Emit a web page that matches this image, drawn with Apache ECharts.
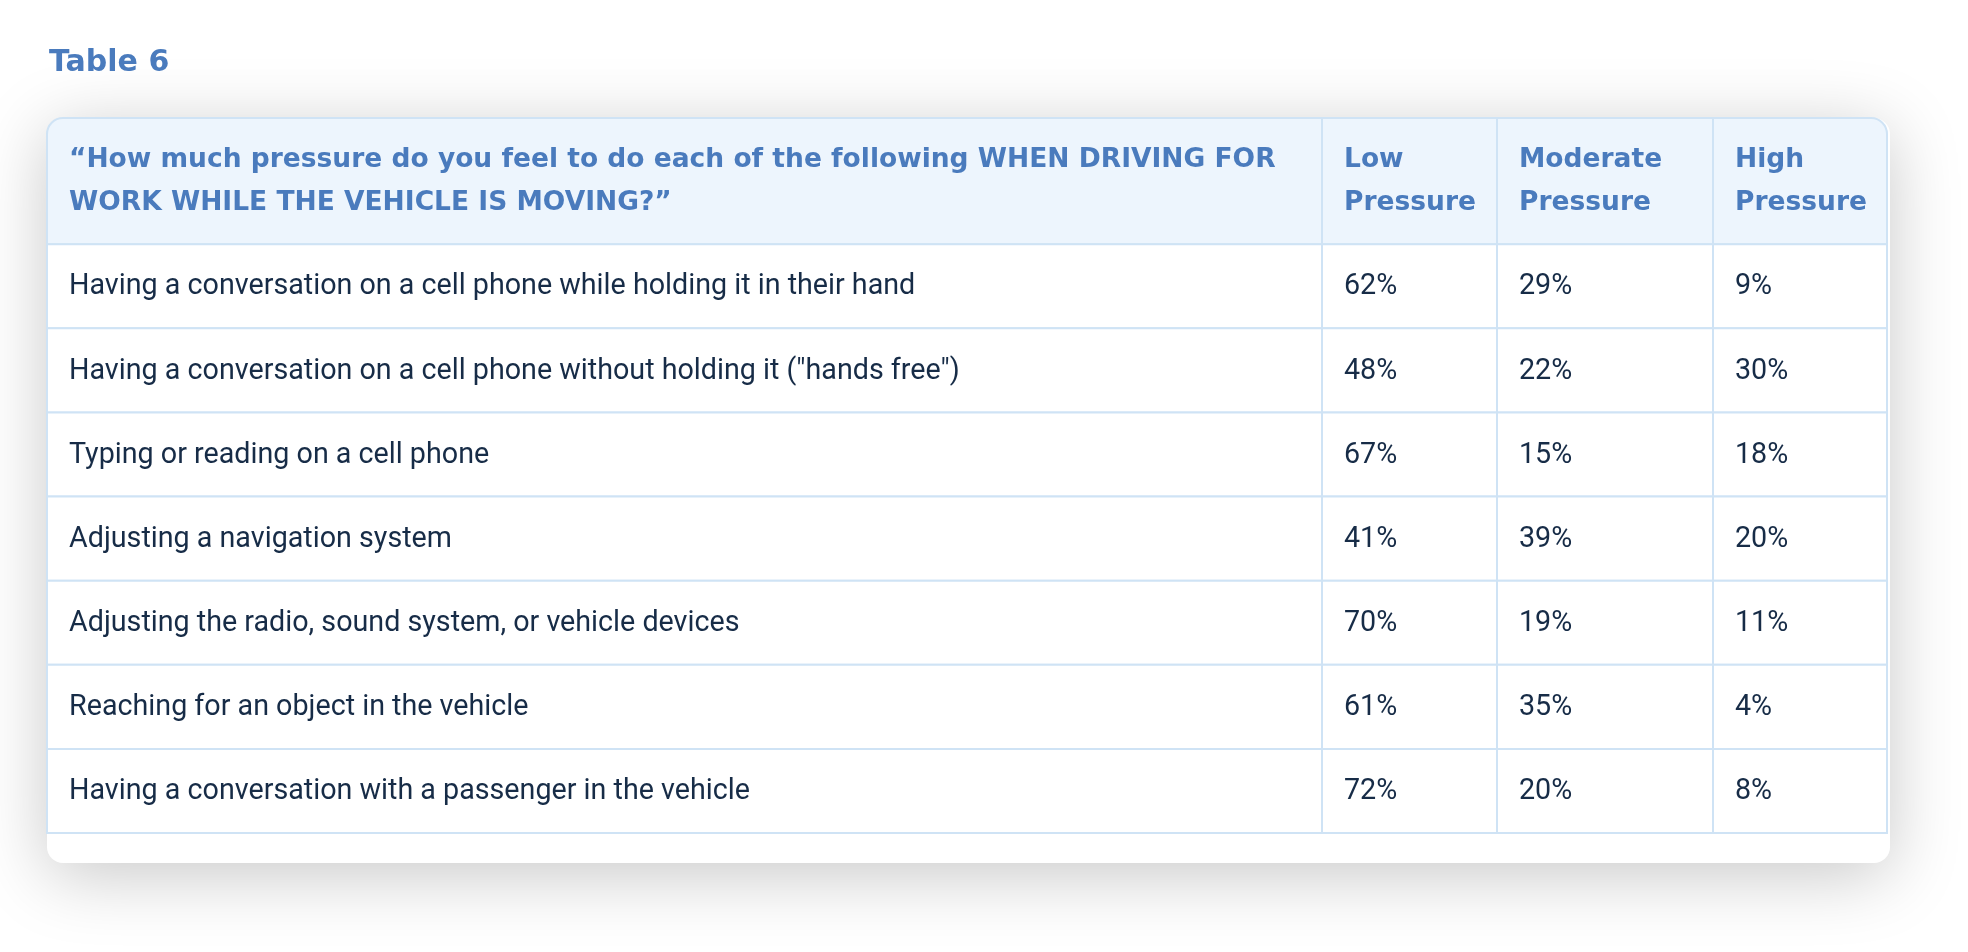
<!DOCTYPE html>
<html>
<head>
<meta charset="utf-8">
<script src="https://cdn.jsdelivr.net/npm/echarts@6/dist/echarts.min.js"></script>
<style>
html,body{margin:0;padding:0;background:#fff;}
#chart{width:1968px;height:952px;}
</style>
</head>
<body>
<div id="chart"></div>
<script>
// ---- data ----
const tableTitle = 'Table 6';
const columnHeaders = [
  '\u201CHow much pressure do you feel to do each of the following WHEN DRIVING FOR\nWORK WHILE THE VEHICLE IS MOVING?\u201D',
  'Low\nPressure',
  'Moderate\nPressure',
  'High\nPressure'
];
const categories = [
  'Having a conversation on a cell phone while holding it in their hand',
  'Having a conversation on a cell phone without holding it ("hands free")',
  'Typing or reading on a cell phone',
  'Adjusting a navigation system',
  'Adjusting the radio, sound system, or vehicle devices',
  'Reaching for an object in the vehicle',
  'Having a conversation with a passenger in the vehicle'
];
const lowPressure = [62, 48, 67, 41, 70, 61, 72];
const moderatePressure = [29, 22, 15, 39, 19, 35, 20];
const highPressure = [9, 30, 18, 20, 11, 4, 8];

// ---- layout (relative units) ----
const colWidths = [1275, 175, 216, 174];
const colEdges = [0];
colWidths.forEach(w => colEdges.push(colEdges[colEdges.length - 1] + w));
const HEADER = 1.5;            // header row height in body-row units
const ROWS = categories.length;

const HEADER_FONT = '"DejaVu Sans", "Noto Sans", sans-serif';
const BODY_FONT = 'Roboto, "Noto Sans", sans-serif';
const BORDER = '#cfe3f5';
const HEAD_BG = '#edf5fd';
const HEAD_COLOR = '#4a7bbd';
const BODY_COLOR = '#172c47';

const series3 = [lowPressure, moderatePressure, highPressure];

const cells = [];
for (let c = 0; c < columnHeaders.length; c++) cells.push({ value: [c, -1] });
for (let r = 0; r < ROWS; r++) {
  for (let c = 0; c < columnHeaders.length; c++) cells.push({ value: [c, r] });
}

function cellText(c, r) {
  if (r < 0) return columnHeaders[c];
  if (c === 0) return categories[r];
  return series3[c - 1][r] + '%';
}

const chart = echarts.init(document.getElementById('chart'), null, { renderer: 'canvas' });

chart.setOption({
  backgroundColor: '#ffffff',
  animation: false,
  title: {
    text: tableTitle,
    left: 44,
    top: 43,
    textStyle: { fontFamily: HEADER_FONT, fontWeight: 'bold', fontSize: 30, color: HEAD_COLOR }
  },
  graphic: [{
    type: 'rect',
    z: 0,
    shape: { x: 47, y: 118, width: 1843, height: 745, r: 16 },
    style: { fill: '#ffffff', shadowBlur: 70, shadowColor: 'rgba(0,0,0,0.22)', shadowOffsetY: 12 }
  }],
  grid: { left: 47, top: 118, width: 1840, height: 715 },
  xAxis: { type: 'value', min: 0, max: colEdges[colEdges.length - 1], show: false },
  yAxis: { type: 'value', min: 0, max: HEADER + ROWS, inverse: true, show: false },
  series: [{
    type: 'custom',
    z: 5,
    coordinateSystem: 'cartesian2d',
    data: cells,
    renderItem: function (params, api) {
      const c = api.value(0), r = api.value(1);
      const y0 = r < 0 ? 0 : HEADER + r;
      const y1 = r < 0 ? HEADER : HEADER + r + 1;
      const p0 = api.coord([colEdges[c], y0]);
      const p1 = api.coord([colEdges[c + 1], y1]);
      const head = r < 0;
      let radius = 0;
      if (head && c === 0) radius = [16, 0, 0, 0];
      if (head && c === columnHeaders.length - 1) radius = [0, 16, 0, 0];
      return {
        type: 'group',
        children: [{
          type: 'rect',
          shape: { x: p0[0], y: p0[1], width: p1[0] - p0[0], height: p1[1] - p0[1], r: radius },
          style: { fill: head ? HEAD_BG : '#ffffff', stroke: BORDER, lineWidth: 2 }
        }, {
          type: 'text',
          x: p0[0] + 22,
          y: (p0[1] + p1[1]) / 2 + 1,
          style: {
            text: cellText(c, r),
            fill: head ? HEAD_COLOR : BODY_COLOR,
            font: head ? ('bold 26.5px ' + HEADER_FONT) : ('28.7px ' + BODY_FONT),
            lineHeight: 43,
            verticalAlign: 'middle',
            align: 'left'
          }
        }]
      };
    }
  }]
});
</script>
</body>
</html>
